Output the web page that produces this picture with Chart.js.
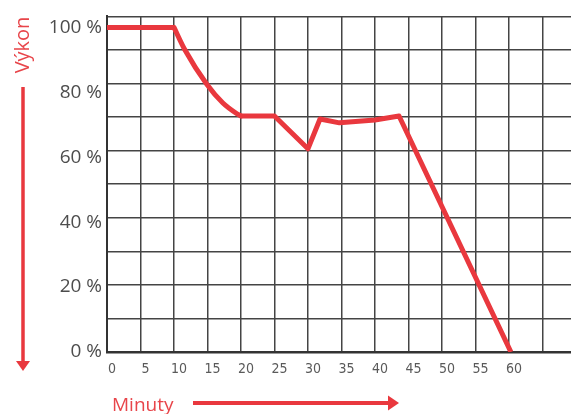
<!DOCTYPE html>
<html>
<head>
<meta charset="utf-8">
<script src="https://cdn.jsdelivr.net/npm/chart.js@4"></script>
<style>
html,body{margin:0;padding:0;background:#fff;overflow:hidden;width:571px;height:414px;}
#wrap{position:absolute;left:0;top:0;width:600px;height:414px;}
</style>
</head>
<body>
<div id="wrap"><canvas id="c" width="600" height="414"></canvas></div>
<script>
// Data
// straight parts of the power line
const minutes = [0, 10, 20, 25, 30, 31.8, 34.7, 40, 43.6, 60.3];
const power   = [100, 100, 72.7, 72.7, 62.6, 71.8, 70.6, 71.5, 72.7, 0];
// the smooth fall between 10 and 20 minutes
const curveMinutes = [10, 11.6, 14.9, 17.3, 19.4, 20];
const curvePower   = [100, 93.2, 82.5, 76.7, 73.4, 72.7];
const xTickValues = [0, 5, 10, 15, 20, 25, 30, 35, 40, 45, 50, 55, 60];
const yTickValues = [0, 20, 40, 60, 80, 100];
const yAxisTitle = 'Výkon';
const xAxisTitle = 'Minuty';

const RED = '#e9383e';
const GRID = '#444';

const straightPts = minutes.map((m, i) => ({x: m, y: power[i]}));
const curvePts = curveMinutes.map((m, i) => ({x: m, y: curvePower[i]}));

const annot = {
  id: 'annot',
  afterDraw(chart) {
    const ctx = chart.ctx;
    ctx.save();
    ctx.fillStyle = '#e8454a';
    ctx.font = '20px "Open Sans", sans-serif';
    ctx.translate(23, 45);
    ctx.rotate(-Math.PI / 2);
    ctx.textAlign = 'center';
    ctx.textBaseline = 'middle';
    ctx.fillText(yAxisTitle, 0, 0);
    ctx.restore();

    ctx.save();
    ctx.strokeStyle = RED;
    ctx.fillStyle = RED;
    ctx.lineWidth = 3.5;
    ctx.beginPath();
    ctx.moveTo(23, 87);
    ctx.lineTo(23, 362);
    ctx.stroke();
    ctx.beginPath();
    ctx.moveTo(16, 361);
    ctx.lineTo(30, 361);
    ctx.lineTo(23, 371);
    ctx.closePath();
    ctx.fill();
    ctx.lineWidth = 4;
    ctx.beginPath();
    ctx.moveTo(193, 403);
    ctx.lineTo(390, 403);
    ctx.stroke();
    ctx.beginPath();
    ctx.moveTo(388, 395.5);
    ctx.lineTo(399, 403);
    ctx.lineTo(388, 410.5);
    ctx.closePath();
    ctx.fill();
    ctx.fillStyle = '#e8454a';
    ctx.font = '19px "Open Sans", sans-serif';
    ctx.textAlign = 'left';
    ctx.textBaseline = 'alphabetic';
    ctx.fillText(xAxisTitle, 112, 411);
    ctx.restore();
  }
};

new Chart(document.getElementById('c'), {
  type: 'line',
  data: {
    datasets: [{
      data: straightPts,
      borderColor: RED,
      borderWidth: 5,
      pointRadius: 0,
      tension: 0,
      borderJoinStyle: 'round',
      segment: {
        borderColor: c => (c.p0.parsed.x === 10 && c.p1.parsed.x === 20 ? 'rgba(0,0,0,0)' : RED)
      },
      fill: false
    }, {
      data: curvePts,
      borderColor: RED,
      borderWidth: 5,
      pointRadius: 0,
      cubicInterpolationMode: 'monotone',
      borderCapStyle: 'round',
      borderJoinStyle: 'round',
      fill: false
    }]
  },
  options: {
    responsive: false,
    animation: false,
    events: [],
    layout: {padding: {top: 15, left: 0, right: 0, bottom: 0}},
    plugins: {legend: {display: false}, tooltip: {enabled: false}},
    scales: {
      x: {
        type: 'linear',
        min: 0,
        max: 73.6,
        afterBuildTicks(s) { s.ticks = xTickValues.map(v => ({value: v})).concat([{value: 65}, {value: 70}]); },
        ticks: {
          autoSkip: false,
          maxRotation: 0,
          padding: 9,
          labelOffset: 5,
          color: '#5a5a5a',
          font: {family: '"Liberation Sans Narrow", "DejaVu Sans Condensed", sans-serif', size: 14},
          callback: v => (xTickValues.includes(v) ? String(v) : '')
        },
        grid: {color: GRID, lineWidth: 1.5, drawTicks: false},
        border: {display: true, color: '#333', width: 2.5},
        afterFit(s) { s.height = 62; }
      },
      y: {
        type: 'linear',
        position: 'left',
        min: 0,
        max: 103.4,
        afterBuildTicks(s) { s.ticks = yTickValues.map(v => ({value: v})); },
        ticks: {
          padding: 5,
          color: '#4d4d4d',
          font: {family: '"Open Sans", sans-serif', size: 19},
          callback: v => v + ' %'
        },
        grid: {display: false, drawTicks: false},
        border: {display: true, color: '#333', width: 2},
        afterFit(s) { s.width = 107; }
      },
      yGrid: {
        type: 'linear',
        position: 'right',
        min: 0,
        max: 100,
        ticks: {display: false, stepSize: 10},
        grid: {color: GRID, lineWidth: 1.5, drawTicks: false},
        border: {display: false},
        afterFit(s) { s.width = 0; }
      }
    }
  },
  plugins: [annot]
});
</script>
</body>
</html>
